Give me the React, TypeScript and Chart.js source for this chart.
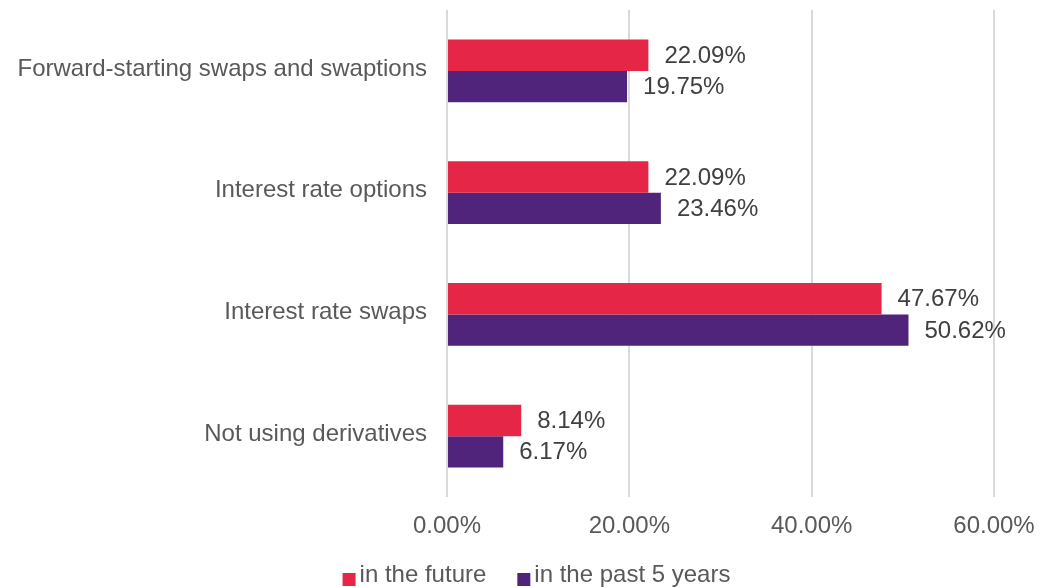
import React, { useEffect, useRef } from "react";
import { Chart, registerables } from "chart.js";

Chart.register(...registerables);

const categories = [
  "Forward-starting swaps and swaptions",
  "Interest rate options",
  "Interest rate swaps",
  "Not using derivatives",
];
const seriesNames = ["in the future", "in the past 5 years"];
const futureValues = [22.09, 22.09, 47.67, 8.14];
const past5Values = [19.75, 23.46, 50.62, 6.17];
const xTickValues = [0, 20, 40, 60];

const RED = "#E52646";
const PURPLE = "#50247A";
const FONT = "'Liberation Sans', Arial, sans-serif";

const dataLabelPlugin = {
  id: "dataLabels",
  afterDatasetsDraw(chart: any) {
    const ctx = chart.ctx;
    ctx.save();
    ctx.font = `24px ${FONT}`;
    ctx.fillStyle = "#404040";
    ctx.textAlign = "left";
    ctx.textBaseline = "middle";
    chart.data.datasets.forEach((ds: any, di: number) => {
      const meta = chart.getDatasetMeta(di);
      meta.data.forEach((el: any, i: number) => {
        const v = ds.data[i] as number;
        ctx.fillText(v.toFixed(2) + "%", el.x + 16, el.y + 1);
      });
    });
    ctx.restore();
  },
};

const legendPlugin = {
  id: "customLegend",
  afterDraw(chart: any) {
    const ctx = chart.ctx;
    ctx.save();
    ctx.font = `24px ${FONT}`;
    const box = 13;
    const gapText = 4;
    const gapItem = 31;
    const items = chart.data.datasets.map((ds: any) => ({
      label: ds.label,
      color: ds.backgroundColor,
      w: ctx.measureText(ds.label).width,
    }));
    let total = 0;
    items.forEach((it: any, i: number) => {
      total += box + gapText + it.w + (i < items.length - 1 ? gapItem : 0);
    });
    let x = chart.width / 2 + 16 - total / 2;
    const baseY = chart.height - 5;
    items.forEach((it: any) => {
      ctx.fillStyle = it.color;
      ctx.fillRect(x, baseY - 9, box, box);
      ctx.fillStyle = "#595959";
      ctx.textAlign = "left";
      ctx.textBaseline = "alphabetic";
      ctx.fillText(it.label, x + box + gapText, baseY);
      x += box + gapText + it.w + gapItem;
    });
    ctx.restore();
  },
};

export default function App() {
  const ref = useRef<HTMLCanvasElement>(null);

  useEffect(() => {
    if (!ref.current) return;
    const chart = new Chart(ref.current, {
      type: "bar",
      data: {
        labels: categories,
        datasets: [
          {
            label: seriesNames[0],
            data: futureValues,
            backgroundColor: RED,
            barPercentage: 1,
            categoryPercentage: 0.517,
          },
          {
            label: seriesNames[1],
            data: past5Values,
            backgroundColor: PURPLE,
            barPercentage: 1,
            categoryPercentage: 0.517,
          },
        ],
      },
      options: {
        indexAxis: "y",
        responsive: false,
        animation: false,
        layout: { padding: { top: 10, right: 47, left: 0, bottom: 50 } },
        plugins: {
          legend: { display: false },
          tooltip: { enabled: false },
        },
        scales: {
          x: {
            min: 0,
            max: 60,
            afterBuildTicks: (scale: any) => {
              scale.ticks = xTickValues.map((v) => ({ value: v }));
            },
            afterFit: (scale: any) => {
              scale.height = 40;
              scale.paddingLeft = 0;
              scale.paddingRight = 0;
            },
            ticks: {
              color: "#595959",
              font: { family: FONT, size: 24 },
              padding: 15,
              maxRotation: 0,
              callback: (v: any) => Number(v).toFixed(2) + "%",
            },
            grid: { color: "#d9d9d9", lineWidth: 2, drawTicks: false },
            border: { display: false },
          },
          y: {
            afterFit: (scale: any) => {
              scale.width = 447;
              scale.paddingTop = 0;
              scale.paddingBottom = 0;
            },
            ticks: {
              color: "#595959",
              font: { family: FONT, size: 24 },
              padding: 20,
              labelOffset: -2,
            },
            grid: { display: false, drawTicks: false },
            border: { display: false },
          },
        },
      },
      plugins: [dataLabelPlugin, legendPlugin],
    });
    return () => chart.destroy();
  }, []);

  return (
    <div style={{ position: "absolute", left: 0, top: 0, width: 1041, height: 587, background: "#fff" }}>
      <canvas ref={ref} width={1041} height={587} />
    </div>
  );
}
